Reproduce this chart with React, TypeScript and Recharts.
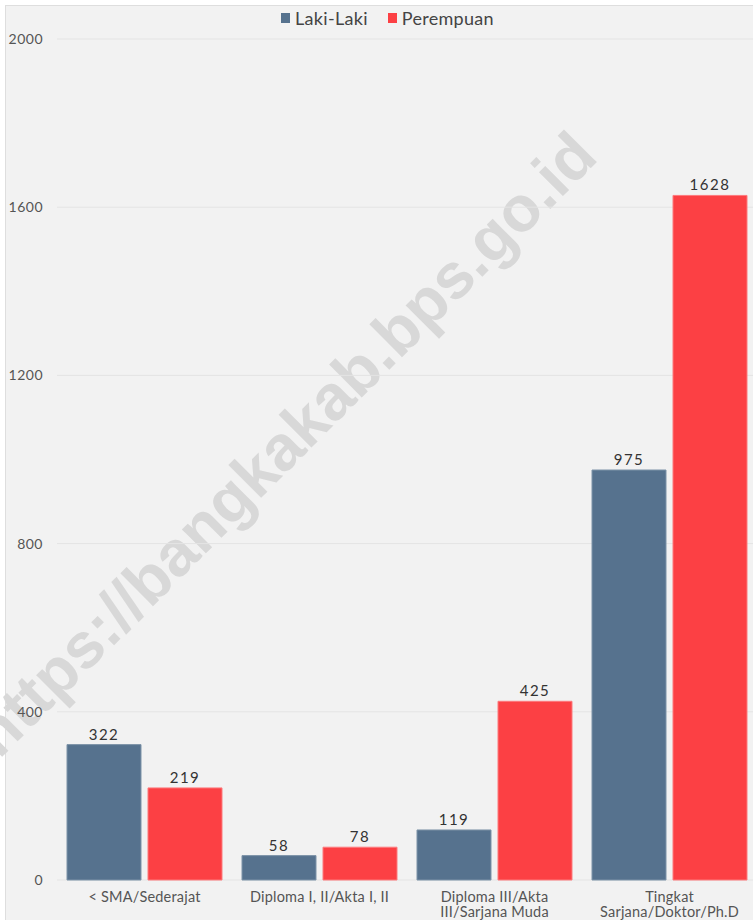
import React from 'react';
import { BarChart, Bar, XAxis, YAxis, CartesianGrid, Legend, LabelList } from 'recharts';

const categories = [
  '< SMA/Sederajat',
  'Diploma I, II/Akta I, II',
  'Diploma III/Akta III/Sarjana Muda',
  'Tingkat Sarjana/Doktor/Ph.D',
];
const categoryLines = [
  ['< SMA/Sederajat'],
  ['Diploma I, II/Akta I, II'],
  ['Diploma III/Akta', 'III/Sarjana Muda'],
  ['Tingkat', 'Sarjana/Doktor/Ph.D'],
];
const lakiLaki = [322, 58, 119, 975];
const perempuan = [219, 78, 425, 1628];
const yTicks = [0, 400, 800, 1200, 1600, 2000];
const seriesNames = ['Laki-Laki', 'Perempuan'];
const seriesColors = ['#56728e', '#fc4044'];
const watermark = 'https://bangkakab.bps.go.id';

const data = categories.map((c, i) => ({ category: c, laki: lakiLaki[i], perempuan: perempuan[i] }));

const FONT = 'Lato, "Noto Sans", sans-serif';
const W = 753;
const H = 920;
const CHART_W = 757;

const XTick = (props: any) => {
  const { x, y, payload } = props;
  const idx = categories.indexOf(payload.value);
  const lines = idx >= 0 ? categoryLines[idx] : [String(payload.value)];
  return (
    <text x={x} y={y} textAnchor="middle" fill="#555" fontSize={14.5} fontFamily={FONT} letterSpacing={0.2}>
      {lines.map((l, i) => (
        <tspan key={i} x={x} dy={i === 0 ? 22 : 15}>
          {l}
        </tspan>
      ))}
    </text>
  );
};

const LegendContent = (props: any) => {
  const payload = props.payload || [];
  return (
    <div
      style={{
        display: 'flex',
        justifyContent: 'center',
        alignItems: 'center',
        height: 20,
        fontFamily: FONT,
        paddingLeft: 18,
      }}
    >
      {payload.map((p: any, i: number) => (
        <div key={i} style={{ display: 'flex', alignItems: 'center', marginRight: i === 0 ? 20 : 0 }}>
          <div style={{ width: 9, height: 10, background: p.color, marginRight: 5 }} />
          <span style={{ fontSize: 18, color: '#444', letterSpacing: 0.3 }}>{p.value}</span>
        </div>
      ))}
    </div>
  );
};

export default function App() {
  return (
    <div style={{ position: 'absolute', left: 0, top: 0, width: W, height: H, background: '#fff', overflow: 'hidden' }}>
      <div
        style={{
          position: 'absolute',
          left: 5,
          top: 5,
          width: W - 5,
          height: H - 5,
          background: '#f2f2f2',
          borderTop: '1px solid #dedede',
          borderLeft: '1px solid #dedede',
          boxSizing: 'border-box',
        }}
      />
      <svg width={W} height={H} style={{ position: 'absolute', left: 0, top: 0 }}>
        <text
          x={284}
          y={444}
          textAnchor="middle"
          dominantBaseline="central"
          fontFamily='"Liberation Sans", Arial, sans-serif'
          fontWeight="bold"
          fontSize={64}
          fill="#d8d8d8"
          transform="rotate(-45 284 444)"
        >
          {watermark}
        </text>
      </svg>
      <div style={{ position: 'absolute', left: 0, top: 0 }}>
        <BarChart
          width={CHART_W}
          height={H}
          data={data}
          margin={{ top: 19, right: 0, bottom: 10, left: 0 }}
          barCategoryGap={10}
          barGap={7}
        >
          <CartesianGrid vertical={false} stroke="#e4e4e4" />
          <XAxis
            dataKey="category"
            axisLine={false}
            tickLine={false}
            tickSize={0}
            tickMargin={0}
            height={30}
            interval={0}
            tick={<XTick />}
          />
          <YAxis
            domain={[0, 2000]}
            ticks={yTicks}
            axisLine={false}
            tickLine={false}
            tickSize={0}
            tickMargin={14}
            width={57}
            tick={{ fill: '#555', fontSize: 14, fontFamily: FONT, letterSpacing: 0.5 }}
          />
          <Legend verticalAlign="top" content={<LegendContent />} wrapperStyle={{ top: 8 }} />
          <Bar dataKey="laki" name={seriesNames[0]} fill={seriesColors[0]} stroke="#7d93a8" strokeWidth={1} isAnimationActive={false}>
            <LabelList dataKey="laki" position="top" offset={5} fill="#333" fontSize={15} fontFamily={FONT} letterSpacing={1.5} />
          </Bar>
          <Bar dataKey="perempuan" name={seriesNames[1]} fill={seriesColors[1]} stroke="#fd7a7d" strokeWidth={1} isAnimationActive={false}>
            <LabelList dataKey="perempuan" position="top" offset={5} fill="#333" fontSize={15} fontFamily={FONT} letterSpacing={1.5} />
          </Bar>
        </BarChart>
      </div>
    </div>
  );
}
